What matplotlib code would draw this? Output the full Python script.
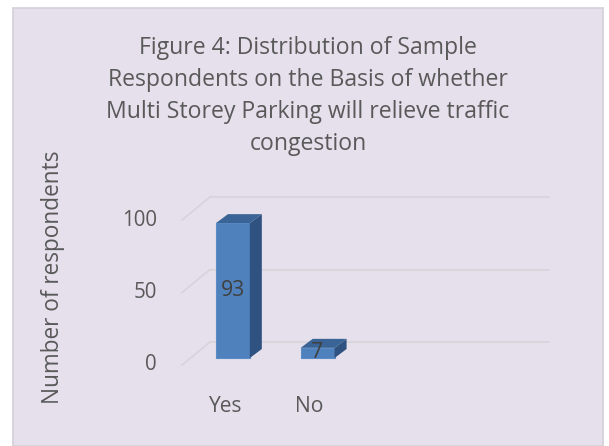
import matplotlib.pyplot as plt
from matplotlib.patches import Rectangle, Polygon

# data
categories = ['Yes', 'No']
values = [93, 7]
y_ticks = [0, 50, 100]
title_lines = ['Figure 4: Distribution of Sample',
               'Respondents on the Basis of whether',
               'Multi Storey Parking will relieve traffic',
               'congestion']
y_label = 'Number of respondents'

W, H = 609, 446
plt.rcParams['font.family'] = ['Open Sans', 'DejaVu Sans']
txt_col = '#595959'
bg = '#E5E0EC'

fig = plt.figure(figsize=(W / 100, H / 100), dpi=100)
fig.patch.set_facecolor('white')
fig.patches.append(Rectangle((13 / W, 0), 590 / W, 438 / H, transform=fig.transFigure,
                             facecolor=bg, edgecolor='#D4D0D8', lw=1.2, zorder=-5))

# front plane of the 3d box
ax = fig.add_axes([182 / W, 81 / H, 339 / W, 145 / H])
ax.set_xlim(-0.5, 3.5)
ax.set_ylim(0, 100)
ax.axis('off')
ax.set_zorder(2)

ppx = 339 / 4.0   # pixels per x unit
ppy = 145 / 100.0  # pixels per y unit
Dx, Dy = 28 / ppx, 23 / ppy        # full depth
fx, fy = 8.5 / ppx, 7 / ppy        # bar front offset
bx, by = 12 / ppx, 9 / ppy         # bar depth

grid_col = '#D7D3DB'
x0, x1 = ax.get_xlim()
for v in y_ticks:
    ax.plot([x0 + Dx, x1 + Dx], [v + Dy, v + Dy], color=grid_col, lw=1.2, clip_on=False, zorder=1)
    ax.plot([x0, x0 + Dx], [v, v + Dy], color=grid_col, lw=1.2, clip_on=False, zorder=1)
    ax.text(x0 - 25 / ppx, v, str(v), ha='right', va='center', fontsize=14.8,
            color=txt_col)

w = 0.4
for i, (c, v) in enumerate(zip(categories, values)):
    l = i - w / 2 + fx
    r = i + w / 2 + fx
    b = fy
    t = v + fy
    ax.bar(i + fx, v, width=w, bottom=fy, color='#4F81BD', edgecolor='#5B8CC7',
           lw=0.8, clip_on=False, zorder=3)
    ax.add_patch(Polygon([(r, b), (r + bx, b + by), (r + bx, t + by), (r, t)],
                         closed=True, facecolor='#2F5280', edgecolor='none',
                         clip_on=False, zorder=3))
    ax.add_patch(Polygon([(l, t), (r, t), (r + bx, t + by), (l + bx, t + by)],
                         closed=True, facecolor='#3A6495', edgecolor='none',
                         clip_on=False, zorder=3))
    ax.text(i + fx, fy + v / 2, str(v), ha='center', va='center', fontsize=15.3,
            color='#404040', zorder=4)
    ax.text(i, -42 / ppy, c, ha='center', va='center', fontsize=15.2, color=txt_col)

fig.text(308 / W, 1 - 96 / H, '\n'.join(title_lines), ha='center', va='center',
         fontsize=16.6, color=txt_col, linespacing=1.43)
fig.text(53 / W, 1 - 277 / H, y_label, rotation=90, ha='center', va='center',
         fontsize=16.3, color=txt_col)

fig.savefig('out.png', dpi=100, facecolor='white')
